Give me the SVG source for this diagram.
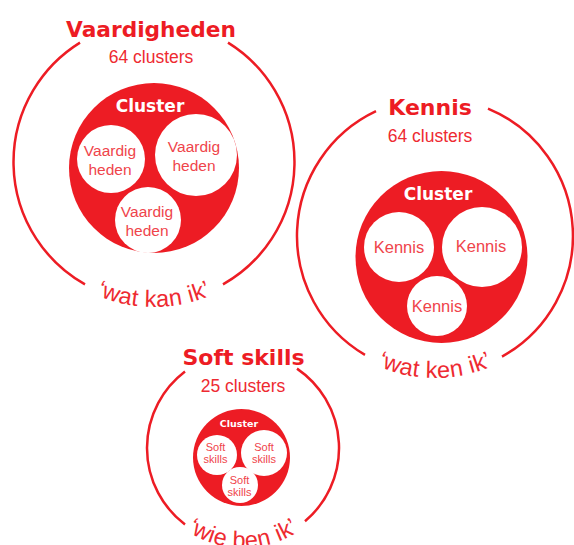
<svg xmlns="http://www.w3.org/2000/svg" width="574" height="545" viewBox="0 0 574 545">
  <style>
    .ring { fill: none; stroke: #ED1C24; stroke-width: 2.5; }
    .cluster { fill: #ED1C24; }
    .sub { fill: #FFFFFF; }
    .title { font-family: "DejaVu Sans", sans-serif; font-weight: bold; fill: #ED1C24; text-anchor: middle; }
    .count { font-family: "Liberation Sans", sans-serif; fill: #EE2A31; text-anchor: middle; font-size: 17.5px; }
    .clabel { font-family: "DejaVu Sans", sans-serif; font-weight: bold; fill: #FFFFFF; text-anchor: middle; }
    .item { font-family: "Liberation Sans", sans-serif; fill: #EF444B; text-anchor: middle; }
    .quote { font-family: "Liberation Sans", sans-serif; fill: #EE2A31; font-size: 23.5px; letter-spacing: 0.4px; text-anchor: middle; }
  </style>
  <defs>
    <path id="qv" d="M9,162 A145,145 0 0 0 299,162"/>
    <path id="qk" d="M293,236 A142,142 0 0 0 577,236"/>
    <path id="qs" d="M143,448 A100,100 0 0 0 343,448"/>
  </defs>

  <g id="vaardigheden">
    <path class="ring" d="M228,42.6 A140.5,140.5 0 0 1 223,284.4"/>
    <path class="ring" d="M85,284.4 A140.5,140.5 0 0 1 80,42.6"/>
    <text class="title" x="151" y="37" font-size="21.7">Vaardigheden</text>
    <text class="count" x="151" y="63">64 clusters</text>
    <g id="vaardigheden-cluster">
      <circle class="cluster" cx="154" cy="168" r="85"/>
      <text class="clabel" x="150" y="112" font-size="17">Cluster</text>
      <g id="vaardigheden-1">
        <circle class="sub" cx="111" cy="159" r="34"/>
        <text class="item" font-size="15.5" x="110" y="156">Vaardig</text>
        <text class="item" font-size="15.5" x="110" y="175">heden</text>
      </g>
      <g id="vaardigheden-2">
        <circle class="sub" cx="196" cy="155" r="41"/>
        <text class="item" font-size="15.5" x="194" y="152">Vaardig</text>
        <text class="item" font-size="15.5" x="194" y="171">heden</text>
      </g>
      <g id="vaardigheden-3">
        <circle class="sub" cx="148" cy="220" r="33"/>
        <text class="item" font-size="15.5" x="147" y="217">Vaardig</text>
        <text class="item" font-size="15.5" x="147" y="236">heden</text>
      </g>
    </g>
    <text class="quote"><textPath href="#qv" startOffset="50%">‘wat kan ik’</textPath></text>
  </g>

  <g id="kennis">
    <path class="ring" d="M488,108.6 A138,138 0 0 1 502,356.6"/>
    <path class="ring" d="M365,354.9 A138,138 0 0 1 376,111.2"/>
    <text class="title" x="430" y="115" font-size="22">Kennis</text>
    <text class="count" x="430" y="142">64 clusters</text>
    <g id="kennis-cluster">
      <circle class="cluster" cx="441.5" cy="257" r="86"/>
      <text class="clabel" x="438" y="200" font-size="17">Cluster</text>
      <g id="kennis-1">
        <circle class="sub" cx="399" cy="247" r="35"/>
        <text class="item" font-size="16.5" x="399" y="253">Kennis</text>
      </g>
      <g id="kennis-2">
        <circle class="sub" cx="482" cy="247" r="40"/>
        <text class="item" font-size="16.5" x="481" y="252">Kennis</text>
      </g>
      <g id="kennis-3">
        <circle class="sub" cx="437" cy="306" r="30"/>
        <text class="item" font-size="16.5" x="437" y="312">Kennis</text>
      </g>
    </g>
    <text class="quote"><textPath href="#qk" startOffset="50%">‘wat ken ik’</textPath></text>
  </g>

  <g id="softskills">
    <path class="ring" d="M297,368.6 A96,96 0 0 1 305,521.3"/>
    <path class="ring" d="M185,524.5 A96,96 0 0 1 185,371.5"/>
    <text class="title" x="243.5" y="365" font-size="22">Soft skills</text>
    <text class="count" x="243" y="392">25 clusters</text>
    <g id="softskills-cluster">
      <circle class="cluster" cx="241.5" cy="457.5" r="48.5"/>
      <text class="clabel" x="239" y="427" font-size="9.5">Cluster</text>
      <g id="softskills-1">
        <circle class="sub" cx="217" cy="455" r="20"/>
        <text class="item" font-size="11" x="215.5" y="451">Soft</text>
        <text class="item" font-size="11" x="215.5" y="463">skills</text>
      </g>
      <g id="softskills-2">
        <circle class="sub" cx="264" cy="453" r="23"/>
        <text class="item" font-size="11" x="264" y="451">Soft</text>
        <text class="item" font-size="11" x="264" y="463">skills</text>
      </g>
      <g id="softskills-3">
        <circle class="sub" cx="240" cy="485" r="18"/>
        <text class="item" font-size="11" x="239.5" y="484">Soft</text>
        <text class="item" font-size="11" x="239.5" y="496">skills</text>
      </g>
    </g>
    <text class="quote"><textPath href="#qs" startOffset="50%">‘wie ben ik’</textPath></text>
  </g>
</svg>
